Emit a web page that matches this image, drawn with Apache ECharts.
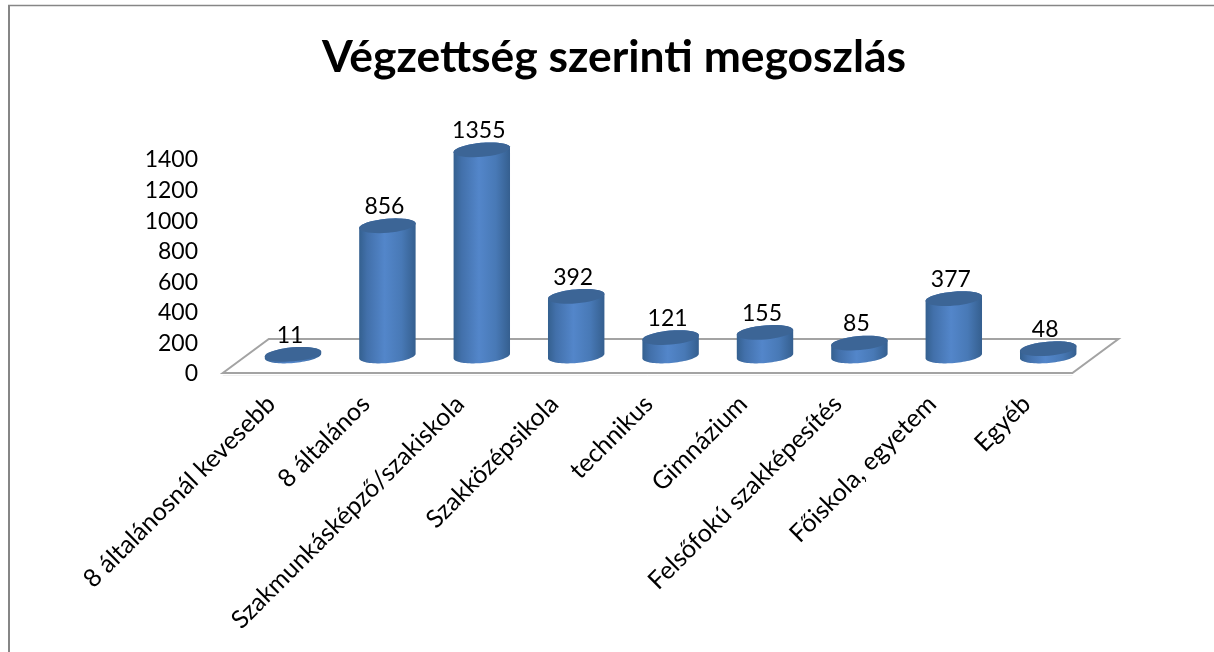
<!DOCTYPE html>
<html>
<head>
<meta charset="utf-8">
<title>Végzettség szerinti megoszlás</title>
<script src="https://cdn.jsdelivr.net/npm/echarts@6/dist/echarts.min.js"></script>
<style>
  html, body { margin: 0; padding: 0; background: #fff; }
  #chart { width: 1214px; height: 652px; }
</style>
</head>
<body>
<div id="chart"></div>
<script>
const titleText = 'Végzettség szerinti megoszlás';
const categories = ['8 általánosnál kevesebb', '8 általános', 'Szakmunkásképző/szakiskola', 'Szakközépsikola', 'technikus', 'Gimnázium', 'Felsőfokú szakképesítés', 'Főiskola, egyetem', 'Egyéb'];
const values = [11, 856, 1355, 392, 121, 155, 85, 377, 48];
const axisMax = 1400;
const axisStep = 200;

const FONT = 'Lato, "Open Sans", sans-serif';
const chart = echarts.init(document.getElementById('chart'));

// tilted ellipse, sampled from angle a to b
function ellipsePoints(cx, cy, rx, ry, a, b) {
  const tilt = -5 * Math.PI / 180;
  const pts = [];
  for (let i = 0; i <= 40; i++) {
    const t = a + (b - a) * i / 40;
    const ex = rx * Math.cos(t);
    const ey = ry * Math.sin(t);
    pts.push([cx + ex * Math.cos(tilt) - ey * Math.sin(tilt), cy + ex * Math.sin(tilt) + ey * Math.cos(tilt)]);
  }
  return pts;
}

function renderCylinder(params, api) {
  const base = api.coord([api.value(0), 0]);
  const top = api.coord([api.value(0), api.value(1)]);
  const rx = api.size([1, 0])[0] * 0.3;
  const ry = 7;
  const body = ellipsePoints(top[0], top[1], rx, ry, Math.PI, 2 * Math.PI)
    .concat(ellipsePoints(base[0], base[1], rx, ry, 0, Math.PI));
  return {
    type: 'group',
    children: [
      {
        type: 'polygon',
        shape: { points: body },
        style: {
          fill: new echarts.graphic.LinearGradient(0, 0, 1, 0, [
            { offset: 0, color: '#34608f' },
            { offset: 0.14, color: '#4270aa' },
            { offset: 0.45, color: '#5386ca' },
            { offset: 0.75, color: '#4879b6' },
            { offset: 1, color: '#355f8f' }
          ])
        }
      },
      {
        type: 'polygon',
        shape: { points: ellipsePoints(top[0], top[1], rx, ry, 0, 2 * Math.PI) },
        style: { fill: '#3c6596' }
      },
      {
        type: 'text',
        x: top[0] - 3,
        y: top[1] - 19,
        style: {
          text: String(api.value(1)),
          align: 'center',
          verticalAlign: 'middle',
          fill: '#000',
          font: '23px ' + FONT
        }
      }
    ]
  };
}

// floor of the 3d plot, centred on the plot's zero line
function renderFloor(params) {
  const g = params.coordSys;
  const y0 = g.y + g.height;
  return {
    type: 'group',
    children: [
      {
        // faint shadow under the front edge
        type: 'line',
        shape: { x1: g.x - 23, y1: y0 + 19.5, x2: g.x + g.width - 23, y2: y0 + 19.5 },
        style: { stroke: '#efefef', lineWidth: 1 }
      },
      {
        type: 'polygon',
        shape: {
          points: [
            [g.x - 23, y0 + 17],
            [g.x + 23, y0 - 17],
            [g.x + g.width + 23, y0 - 17],
            [g.x + g.width - 23, y0 + 17]
          ]
        },
        style: { fill: 'none', stroke: '#a3a3a3', lineWidth: 2 }
      }
    ]
  };
}

const option = {
  backgroundColor: '#fff',
  animation: false,
  title: {
    text: titleText,
    left: 609,
    top: 31,
    textAlign: 'center',
    textStyle: { fontFamily: FONT, fontWeight: 'bold', fontSize: 44.4, color: '#000' }
  },
  graphic: [
    { type: 'line', shape: { x1: 9, y1: 5, x2: 9, y2: 652 }, style: { stroke: '#868686', lineWidth: 2 } },
    { type: 'line', shape: { x1: 8, y1: 5.5, x2: 1214, y2: 5.5 }, style: { stroke: '#868686', lineWidth: 1.5 } }
  ],
  grid: [
    { left: 245.8, width: 849.6, top: 143, height: 213 },
    { left: 224, width: 849.6, top: 160, height: 214 }
  ],
  xAxis: [
    { type: 'category', gridIndex: 0, data: categories, show: false },
    {
      type: 'category',
      gridIndex: 1,
      data: categories,
      axisLine: { show: false },
      axisTick: { show: false },
      axisLabel: { interval: 0, rotate: 45, margin: 26, fontFamily: FONT, fontSize: 25, color: '#000' }
    }
  ],
  yAxis: [
    { type: 'value', gridIndex: 0, min: 0, max: axisMax, interval: axisStep, show: false },
    {
      type: 'value',
      gridIndex: 1,
      min: 0,
      max: axisMax,
      interval: axisStep,
      offset: 18,
      splitLine: { show: false },
      axisLine: { show: false },
      axisTick: { show: false },
      axisLabel: { margin: 8, fontFamily: FONT, fontSize: 23, color: '#000', formatter: v => String(v) }
    }
  ],
  series: [
    {
      type: 'custom',
      xAxisIndex: 0,
      yAxisIndex: 0,
      z: 1,
      silent: true,
      clip: false,
      data: [[0, 0]],
      renderItem: renderFloor
    },
    {
      type: 'custom',
      xAxisIndex: 0,
      yAxisIndex: 0,
      z: 2,
      clip: false,
      encode: { x: 0, y: 1 },
      data: values.map((v, i) => [i, v]),
      renderItem: renderCylinder
    }
  ]
};
chart.setOption(option);
</script>
</body>
</html>
